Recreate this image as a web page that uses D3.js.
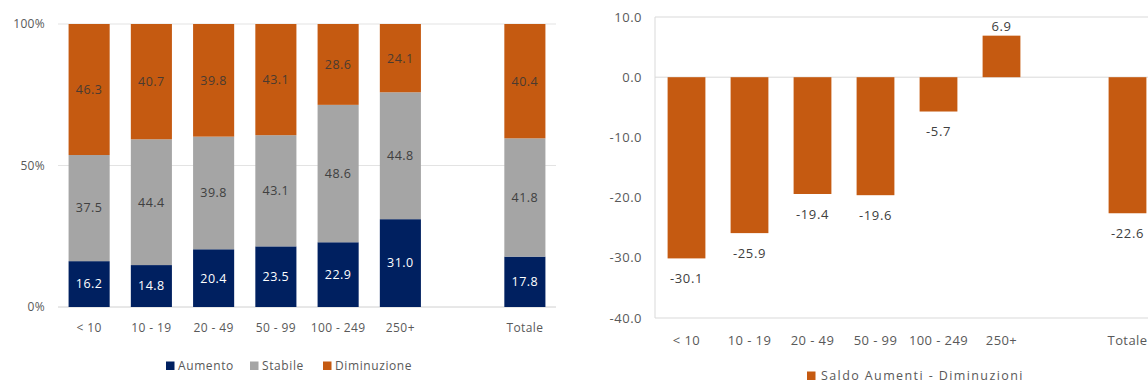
<!DOCTYPE html>
<html>
<head>
<meta charset="utf-8">
<script src="https://cdn.jsdelivr.net/npm/d3@7"></script>
<style>
  html, body { margin: 0; padding: 0; background: #fff; }
  svg { display: block; font-family: "Open Sans", "Noto Sans", sans-serif; }
</style>
</head>
<body>
<svg id="chart" width="1148" height="383"></svg>
<script>
// Size classes (the blank slot separates the total column)
const categories = ["< 10", "10 - 19", "20 - 49", "50 - 99", "100 - 249", "250+", "", "Totale"];
const groups = ["< 10", "10 - 19", "20 - 49", "50 - 99", "100 - 249", "250+", "Totale"];

// Share of firms (%) by expected change
const aumento     = [16.2, 14.8, 20.4, 23.5, 22.9, 31.0, 17.8];
const stabile     = [37.5, 44.4, 39.8, 43.1, 48.6, 44.8, 41.8];
const diminuzione = [46.3, 40.7, 39.8, 43.1, 28.6, 24.1, 40.4];

// Balance: increases minus decreases
const saldo = [-30.1, -25.9, -19.4, -19.6, -5.7, 6.9, -22.6];

const pctTicks = [0, 0.5, 1];
const pctTickLabels = ["0%", "50%", "100%"];
const saldoTicks = [10, 0, -10, -20, -30, -40];

const seriesNames = ["Aumento", "Stabile", "Diminuzione"];
const seriesColors = ["#002060", "#A5A5A5", "#C55A11"];
const labelColors = ["#ffffff", "#404040", "#4a3a30"];
const textColor = "#595959";

const svg = d3.select("#chart");

/* ---------- Left: 100% stacked bars ---------- */
{
  const x = d3.scaleBand().domain(categories).range([58, 556]).paddingInner(0.34).paddingOuter(0.17);
  const y = d3.scaleLinear().domain([0, 1]).range([307, 24]);
  const g = svg.append("g");

  // gridlines
  g.selectAll("line.grid").data(pctTicks).join("line")
    .attr("x1", 58).attr("x2", 556)
    .attr("y1", d => y(d)).attr("y2", d => y(d))
    .attr("stroke", d => d === 0 ? "#d0d0d0" : "#e3e3e3").attr("stroke-width", 1);

  // y tick labels
  g.selectAll("text.ytick").data(pctTicks).join("text")
    .attr("x", 45).attr("y", d => y(d)).attr("dy", "0.35em")
    .attr("text-anchor", "end").attr("font-size", 12).attr("fill", textColor)
    .attr("letter-spacing", 0.3)
    .text((d, i) => pctTickLabels[i]);

  const rows = groups.map((c, i) => ({ cat: c, Aumento: aumento[i], Stabile: stabile[i], Diminuzione: diminuzione[i] }));
  // each column normalised to 100%
  const stack = d3.stack().keys(seriesNames).offset(d3.stackOffsetExpand)(rows);

  stack.forEach((layer, si) => {
    const lg = g.append("g");
    lg.selectAll("rect").data(layer).join("rect")
      .attr("x", d => x(d.data.cat)).attr("width", x.bandwidth())
      .attr("y", d => y(d[1])).attr("height", d => y(d[0]) - y(d[1]))
      .attr("fill", seriesColors[si]);
    lg.selectAll("text").data(layer).join("text")
      .attr("x", d => x(d.data.cat) + x.bandwidth() / 2)
      .attr("y", d => (y(d[0]) + y(d[1])) / 2).attr("dy", "0.35em")
      .attr("text-anchor", "middle").attr("font-size", 12.5)
      .attr("letter-spacing", 0.5)
      .attr("fill", labelColors[si])
      .text(d => d.data[seriesNames[si]].toFixed(1));
  });

  // x labels
  g.selectAll("text.xtick").data(groups).join("text")
    .attr("x", d => x(d) + x.bandwidth() / 2).attr("y", 328).attr("dy", "0.35em")
    .attr("text-anchor", "middle").attr("font-size", 12).attr("fill", textColor)
    .attr("letter-spacing", 0.4)
    .text(d => d);

  // legend
  const legendX = [166, 250, 323];
  const lgd = g.selectAll("g.legend").data(seriesNames).join("g")
    .attr("transform", (d, i) => `translate(${legendX[i]},365.5)`);
  lgd.append("rect").attr("x", 0).attr("y", -4).attr("width", 8.5).attr("height", 8.5)
    .attr("fill", (d, i) => seriesColors[i]);
  lgd.append("text").attr("x", 12).attr("y", 0).attr("dy", "0.35em")
    .attr("font-size", 12).attr("fill", textColor).attr("letter-spacing", 0.6).text(d => d);
}

/* ---------- Right: balance bars ---------- */
{
  const x = d3.scaleBand().domain(categories).range([655, 1159]).paddingInner(0.4).paddingOuter(0.2);
  const y = d3.scaleLinear().domain([-40, 10]).range([318, 17]);
  const g = svg.append("g");

  // plot border and zero line
  const border = "#d9d9d9";
  g.append("line").attr("x1", 655).attr("x2", 1148).attr("y1", y(10)).attr("y2", y(10)).attr("stroke", border);
  g.append("line").attr("x1", 655).attr("x2", 1148).attr("y1", y(-40)).attr("y2", y(-40)).attr("stroke", border);
  g.append("line").attr("x1", 655).attr("x2", 655).attr("y1", y(10)).attr("y2", y(-40)).attr("stroke", border);
  g.append("line").attr("x1", 655).attr("x2", 1148).attr("y1", y(0)).attr("y2", y(0)).attr("stroke", border);

  g.selectAll("text.ytick").data(saldoTicks).join("text")
    .attr("x", 642).attr("y", d => y(d)).attr("dy", "0.35em")
    .attr("text-anchor", "end").attr("font-size", 13).attr("fill", textColor)
    .attr("letter-spacing", 0.5)
    .text(d => d.toFixed(1));

  g.selectAll("rect").data(groups).join("rect")
    .attr("x", d => x(d)).attr("width", x.bandwidth())
    .attr("y", (d, i) => y(Math.max(0, saldo[i])))
    .attr("height", (d, i) => Math.abs(y(saldo[i]) - y(0)))
    .attr("fill", "#C55A11");

  g.selectAll("text.val").data(groups).join("text")
    .attr("x", d => x(d) + x.bandwidth() / 2)
    .attr("y", (d, i) => saldo[i] < 0 ? y(saldo[i]) + 20 : y(saldo[i]) - 9)
    .attr("dy", "0.35em").attr("text-anchor", "middle")
    .attr("font-size", 13).attr("fill", "#404040").attr("letter-spacing", 0.6)
    .text((d, i) => saldo[i].toFixed(1));

  g.selectAll("text.xtick").data(groups).join("text")
    .attr("x", d => x(d) + x.bandwidth() / 2).attr("y", 340).attr("dy", "0.35em")
    .attr("text-anchor", "middle").attr("font-size", 13).attr("fill", textColor)
    .attr("letter-spacing", 0.4)
    .text(d => d);

  const lgd = g.append("g").attr("transform", "translate(807,375.5)");
  lgd.append("rect").attr("x", 0).attr("y", -4).attr("width", 8.5).attr("height", 8.5).attr("fill", "#C55A11");
  lgd.append("text").attr("x", 14).attr("y", 0).attr("dy", "0.35em")
    .attr("font-size", 12.5).attr("fill", textColor).attr("letter-spacing", 1.4)
    .text("Saldo Aumenti - Diminuzioni");
}
</script>
</body>
</html>
